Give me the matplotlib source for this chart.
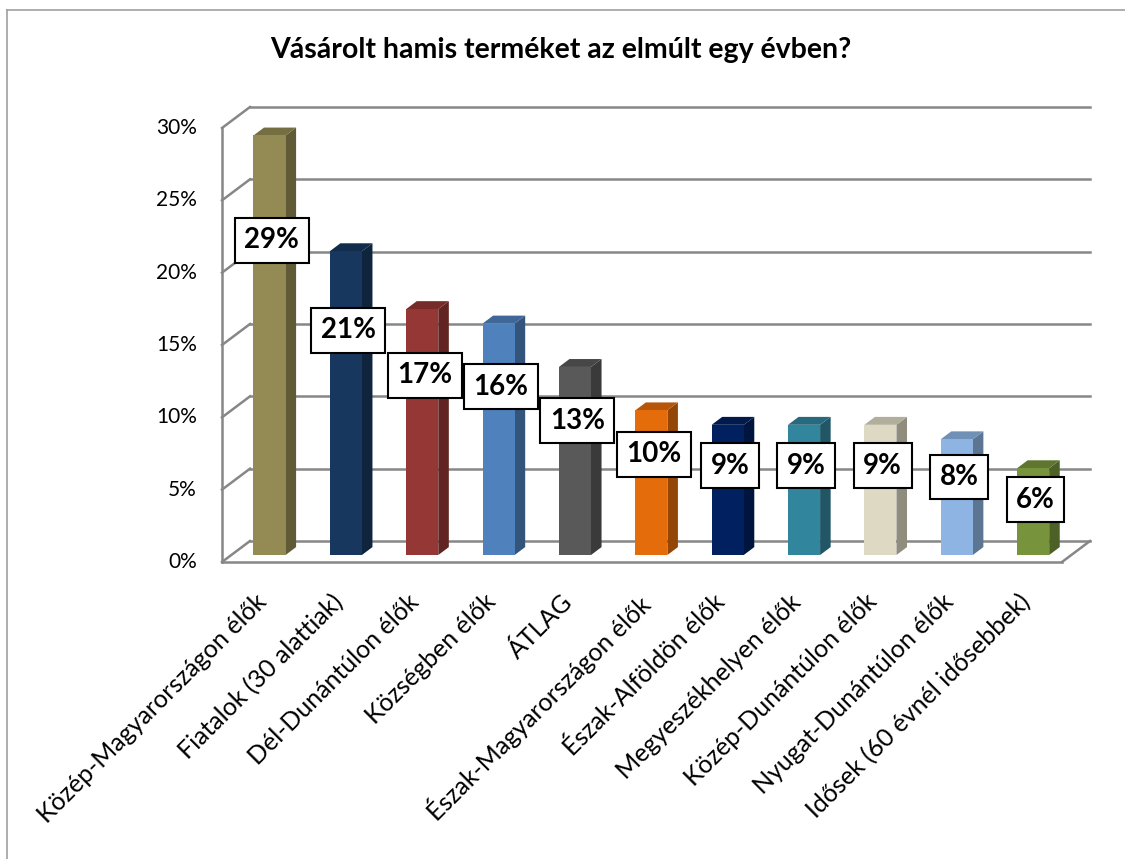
import matplotlib.pyplot as plt
import numpy as np

plt.rcParams['font.family'] = ['Lato', 'DejaVu Sans']

# adatok
kategoriak = ['Közép-Magyarországon élők', 'Fiatalok (30 alattiak)', 'Dél-Dunántúlon élők',
              'Községben élők', 'ÁTLAG', 'Észak-Magyarországon élők', 'Észak-Alföldön élők',
              'Megyeszékhelyen élők', 'Közép-Dunántúlon élők', 'Nyugat-Dunántúlon élők',
              'Idősek (60 évnél idősebbek)']
ertekek = [29, 21, 17, 16, 13, 10, 9, 9, 9, 8, 6]
szinek = ['#948A54', '#17375E', '#953735', '#4F81BD', '#595959', '#E46C0A',
          '#002060', '#31859C', '#DDD9C3', '#8DB4E2', '#77933C']
y_ticks = [0, 5, 10, 15, 20, 25, 30]


def sotetit(szin, k):
    r, g, b = [int(szin[j:j + 2], 16) / 255 for j in (1, 3, 5)]
    return (r * k, g * k, b * k)


fig = plt.figure(figsize=(11.25, 8.59), dpi=100)
W, H = 1125, 859
# hatso fal sikja
ax = fig.add_axes([250 / W, (H - 541) / H, 840 / W, 434 / H])
ax.set_xlim(-0.5, 10.5)
ax.set_ylim(0, 30)
ax.axis('off')

# melyseg (teljes) adategysegben
px_x = 840 / 11
px_y = 434 / 30
ddx = -28 / px_x
ddy = -21 / px_y
f_elol = 0.667   # oszlop eleje
f_hatul = 0.29   # oszlop hatulja
w = 0.42

racs = '#878787'
for t in y_ticks:
    ax.plot([-0.5, 10.5], [t, t], color=racs, lw=1.8, zorder=1, clip_on=False)
    ax.plot([-0.5, -0.5 + ddx], [t, t + ddy], color=racs, lw=1.8, zorder=1, clip_on=False)
    ax.text(-0.5 + ddx - 25 / px_x, t + ddy, '{}%'.format(t), ha='right', va='center',
            fontsize=15, zorder=5)

ax.plot([-0.5 + ddx, -0.5 + ddx], [ddy, 30 + ddy], color=racs, lw=1.8, zorder=1, clip_on=False)
ax.plot([-0.5 + ddx, 10.5 + ddx], [ddy, ddy], color=racs, lw=1.8, zorder=1, clip_on=False)
ax.plot([10.5, 10.5 + ddx], [0, ddy], color=racs, lw=1.8, zorder=1, clip_on=False)

# oszlopok
for i, v in enumerate(ertekek):
    ex, ey = f_elol * ddx, f_elol * ddy
    hx, hy = f_hatul * ddx, f_hatul * ddy
    x0, x1 = i - w / 2, i + w / 2
    # oldal
    ax.fill([x1 + ex, x1 + hx, x1 + hx, x1 + ex], [ey, hy, v + hy, v + ey],
            color=sotetit(szinek[i], 0.65), lw=0, zorder=3, clip_on=False)
    # teteje
    ax.fill([x0 + ex, x0 + hx, x1 + hx, x1 + ex], [v + ey, v + hy, v + hy, v + ey],
            color=sotetit(szinek[i], 0.8), lw=0, zorder=3, clip_on=False)
    # eleje
    ax.fill([x0 + ex, x1 + ex, x1 + ex, x0 + ex], [ey, ey, v + ey, v + ey],
            color=szinek[i], lw=0, zorder=4, clip_on=False)
    # ertek cimke
    ax.text(i + ex + 0.03, 0.78 * v - 0.85 + ey, '{}%'.format(v), ha='center', va='center',
            fontsize=20, fontweight='bold', zorder=6,
            bbox=dict(boxstyle='square,pad=0.34', fc='white', ec='black', lw=1.5))
    # kategoria
    ax.annotate(kategoriak[i], xy=(i + ex, ey), xytext=(-15, -35), textcoords='offset pixels',
                rotation=45, ha='right', va='top', rotation_mode='anchor', fontsize=18,
                annotation_clip=False)

fig.text(561 / W, 1 - 50 / H, 'Vásárolt hamis terméket az elmúlt egy évben?', ha='center',
         va='center', fontsize=20.5, fontweight='bold')

# keret
fig.add_artist(plt.Line2D([7 / W, 7 / W], [0, 1 - 10 / H], color='#A0A0A0', lw=1.2))
fig.add_artist(plt.Line2D([7 / W, 1], [1 - 10 / H, 1 - 10 / H], color='#A0A0A0', lw=1.2))

fig.savefig('out.png', dpi=100)
